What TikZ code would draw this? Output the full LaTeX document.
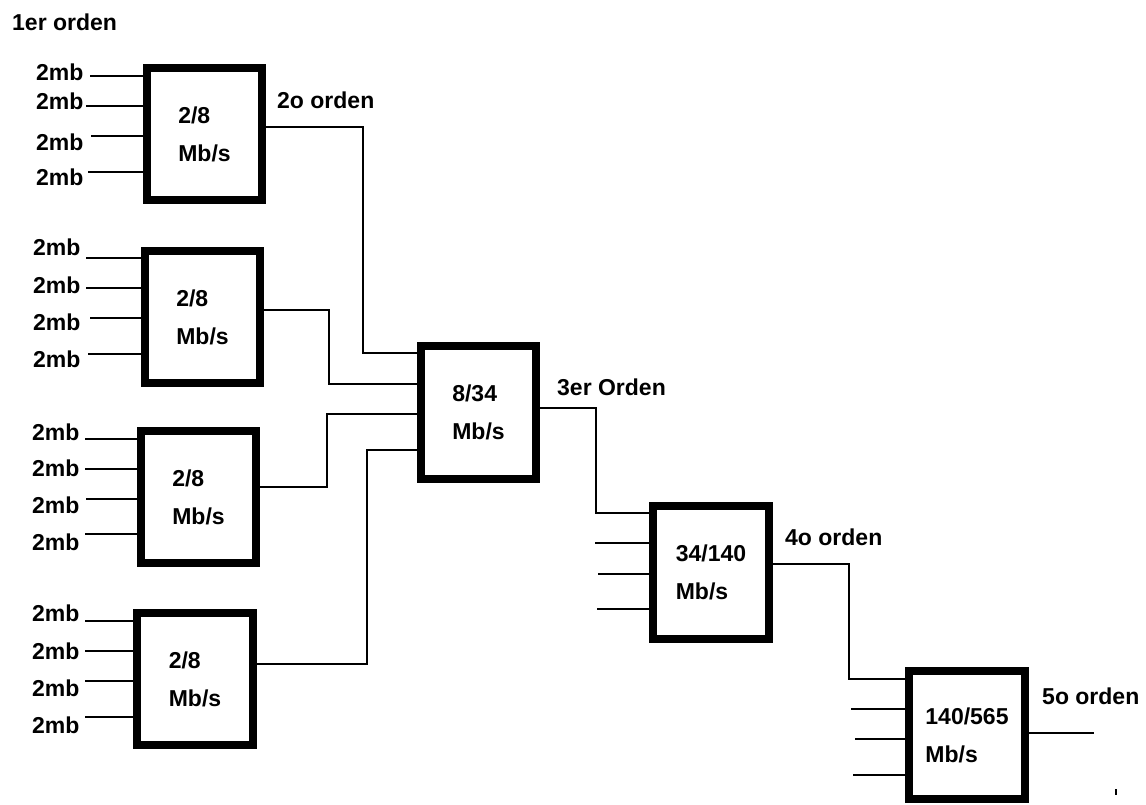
\documentclass[tikz,border=0pt]{standalone}
\usepackage{fontspec}
\setmainfont{Liberation Sans}
\begin{document}
\begin{tikzpicture}[x=1pt,y=-1pt,
  mux/.style={draw, line width=8pt, inner sep=0pt, align=left,
    font=\bfseries\fontsize{23}{38}\selectfont},
  wire/.style={line width=1.5pt},
  lbl/.style={anchor=west, inner sep=0pt, font=\bfseries\fontsize{23}{26}\selectfont}]
\useasboundingbox (0,0) rectangle (1146,804);
% boxes
\node[mux, minimum width=115pt, minimum height=132pt] (b1) at (204.5,134) {2/8\\Mb/s};
\node[mux, minimum width=115pt, minimum height=132pt] (b2) at (202.5,317) {2/8\\Mb/s};
\node[mux, minimum width=115pt, minimum height=132pt] (b3) at (198.5,497) {2/8\\Mb/s};
\node[mux, minimum width=116pt, minimum height=132pt] (b4) at (195,679) {2/8\\Mb/s};
\node[mux, minimum width=115pt, minimum height=133pt] (b5) at (478.5,412.5) {8/34\\Mb/s};
\node[mux, minimum width=116pt, minimum height=133pt] (b6) at (711,572.5) {34/140\\Mb/s};
\node[mux, minimum width=116pt, minimum height=128pt] (b7) at (967,735) {140/565\\Mb/s};
% order labels
\node[lbl] (o1) at (12,22) {1er orden};
\node[lbl] (o2) at (277,100) {2o orden};
\node[lbl] (o3) at (557,387) {3er Orden};
\node[lbl] (o4) at (785,537) {4o orden};
\node[lbl] (o5) at (1042,696) {5o orden};
% 2mb labels
\foreach \n/\x/\y in {a1/36/72,a2/36/101,a3/36/142,a4/36/177,
                      c1/33/247,c2/33/285,c3/33/322,c4/33/359,
                      d1/32/432,d2/32/468,d3/32/505,d4/32/542,
                      e1/32/613,e2/32/651,e3/32/688,e4/32/725}
  \node[lbl] (l\n) at (\x,\y) {2mb};
% inputs
\foreach \n/\x/\y/\b in {a1/90/76/b1,a2/86/106/b1,a3/91/136/b1,a4/88/172/b1,
                         c1/86/258/b2,c2/86/288/b2,c3/90/318/b2,c4/88/354/b2,
                         d1/85/439/b3,d2/85/469/b3,d3/86/499/b3,d4/85/534/b3,
                         e1/85/621/b4,e2/85/651/b4,e3/85/681/b4,e4/85/717/b4,
                         f2/595/543/b6,f3/598/574/b6,f4/597/609/b6,
                         g2/851/709/b7,g3/855/739/b7,g4/853/775/b7}
{
  \coordinate (i\n) at (\x,\y);
  \draw[wire] (i\n) -- (i\n -| \b.west);
}
% connectors
\draw[wire] (b1.east |- 0,127) -- (363,127) |- (b5.west |- 0,353);
\draw[wire] (b2.east |- 0,310) -- (329,310) |- (b5.west |- 0,384);
\draw[wire] (b3.east |- 0,487) -- (327,487) |- (b5.west |- 0,414);
\draw[wire] (b4.east |- 0,664) -- (367,664) |- (b5.west |- 0,450);
\draw[wire] (b5.east |- 0,408) -- (596,408) |- (b6.west |- 0,513);
\draw[wire] (b6.east |- 0,564) -- (849,564) |- (b7.west |- 0,679);
\coordinate (out) at (1094,733);
\draw[wire] (b7.east |- out) -- (out);
\coordinate (t1) at (1116,789);
\coordinate (t2) at (1116,795);
\draw[line width=1.5pt] (t1) -- (t2);
\end{tikzpicture}
\end{document}
